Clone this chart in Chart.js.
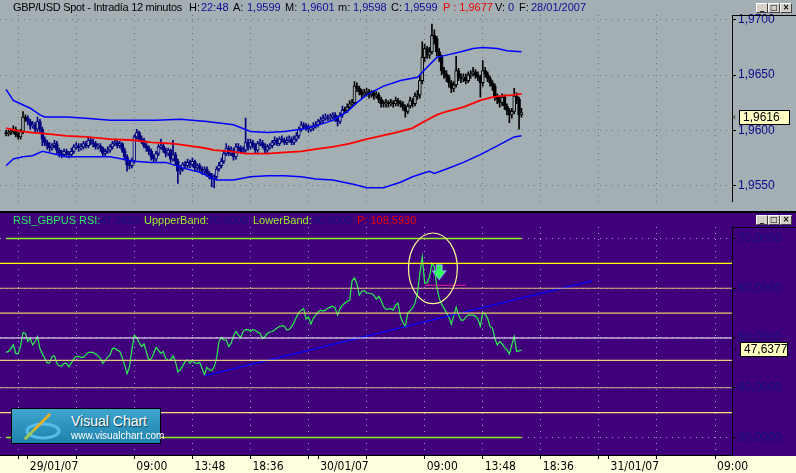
<!DOCTYPE html>
<html>
<head>
<meta charset="utf-8">
<script src="https://cdn.jsdelivr.net/npm/chart.js@4.4.0/dist/chart.umd.min.js"></script>
<style>
  body { margin: 0; width: 796px; height: 473px; overflow: hidden; background: #a4afb3; font-family: "Liberation Sans", Arial, sans-serif; }
  .abs { position: absolute; }
  #topPane { left: 0; top: 0; width: 796px; height: 211px; background: #a4afb3; }
  #sep { left: 0; top: 211px; width: 796px; height: 2px; background: #000; }
  #rsiPane { left: 0; top: 213px; width: 796px; height: 243px; background: #40007c; }
  #timeBar { left: 0; top: 456px; width: 796px; height: 17px; background: #ffffe0; }
  #priceChart { left: 0; top: 0; }
  #rsiChart { left: 0; top: 211px; }
  .t { position: absolute; font-size: 11px; white-space: nowrap; line-height: 13px; }
  .k { color: #000; }
  .v { color: #0a0a96; }
  .r { color: #e80000; }
  .g { color: #2ee86a; }
  .yg { color: #9cf02a; }
  .n { color: #14147e; }
  .axbox { border-top: 1px solid #000; width: 64px; height: 0; }
  .valbox { background: #ffffc4; border: 1px solid #000; font-size: 12px; line-height: 13px; color: #000; padding-left: 3px; box-sizing: border-box; }
  .caret { font-size: 9px; color: #000; }
  .btn { width: 10px; height: 8px; background: #d4d0c8; border: 1px solid; border-color: #fff #404040 #404040 #fff; font: bold 8px/8px "DejaVu Sans", sans-serif; text-align: center; color: #000; }
  #logo { left: 11px; top: 408px; width: 150px; height: 36px; box-sizing: border-box; border: 1px solid #000;
          background: linear-gradient(#3fa6cf, #1e82ad); }
  #logo .big { position: absolute; left: 59px; top: 4px; font-size: 14px; color: #fff; text-shadow: 1px 1px 1px #0b3d55; }
  #logo .small { position: absolute; left: 59px; top: 21px; font-size: 10px; color: #fff; }
</style>
</head>
<body>
<div id="topPane" class="abs"></div>
<div id="sep" class="abs"></div>
<div id="rsiPane" class="abs"></div>
<div id="timeBar" class="abs"></div>
<canvas id="priceChart" class="abs" width="796" height="211"></canvas>
<canvas id="rsiChart" class="abs" width="796" height="262"></canvas>

<!-- price pane header -->
<div class="t k" style="left:13px;top:1px;letter-spacing:-0.3px">GBP/USD Spot - Intradía 12 minutos</div>
<div class="t k" style="left:189px;top:1px">H:</div>
<div class="t v" style="left:201px;top:1px">22:48</div>
<div class="t k" style="left:233px;top:1px">A:</div>
<div class="t v" style="left:247px;top:1px">1,9599</div>
<div class="t k" style="left:285px;top:1px">M:</div>
<div class="t v" style="left:301px;top:1px">1,9601</div>
<div class="t k" style="left:338px;top:1px">m:</div>
<div class="t v" style="left:353px;top:1px">1,9598</div>
<div class="t k" style="left:391px;top:1px">C:</div>
<div class="t v" style="left:404px;top:1px">1,9599</div>
<div class="t r" style="left:443px;top:1px">P : 1,9677</div>
<div class="t k" style="left:495px;top:1px">V:</div>
<div class="t v" style="left:508px;top:1px">0</div>
<div class="t k" style="left:519px;top:1px">F:</div>
<div class="t v" style="left:531px;top:1px">28/01/2007</div>

<!-- rsi pane header -->
<div class="t g" style="left:13px;top:214px">RSI_GBPUS RSI:</div>
<div class="t n" style="left:100px;top:214px">47,9683</div>
<div class="t yg" style="left:144px;top:214px">UppperBand:</div>
<div class="t n" style="left:208px;top:214px">70,0000</div>
<div class="t yg" style="left:253px;top:214px">LowerBand:</div>
<div class="t n" style="left:312px;top:214px">30,0000</div>
<div class="t r" style="left:357px;top:214px">P: 108,5930</div>

<!-- window buttons -->
<div class="abs btn" style="left:756px;top:3px">_</div>
<div class="abs btn" style="left:768px;top:3px">□</div>
<div class="abs btn" style="left:780px;top:3px">×</div>
<div class="abs btn" style="left:756px;top:215px">_</div>
<div class="abs btn" style="left:768px;top:215px">□</div>
<div class="abs btn" style="left:780px;top:215px">×</div>

<!-- axis boxes tops -->
<div class="abs axbox" style="left:732px;top:15px"></div>
<div class="abs axbox" style="left:732px;top:227px"></div>

<!-- last value boxes -->
<div class="abs caret" style="left:733px;top:112px">&lsaquo;</div>
<div class="abs valbox" style="left:739px;top:110px;width:51px;height:15px">1,9616</div>
<div class="abs caret" style="left:734px;top:344px">&lsaquo;</div>
<div class="abs valbox" style="left:740px;top:342px;width:48px;height:15px">47,6377</div>

<!-- logo -->
<div id="logo" class="abs">
  <svg width="60" height="34" style="position:absolute;left:0;top:0">
    <ellipse cx="31" cy="22" rx="16" ry="7" fill="none" stroke="#62c4f4" stroke-width="3" opacity="0.85"/>
    <line x1="13" y1="30" x2="38" y2="5" stroke="#f4b21c" stroke-width="2.5"/>
    <line x1="13" y1="30" x2="22" y2="21" stroke="#8fd05a" stroke-width="2"/>
  </svg>
  <div class="big">Visual Chart</div>
  <div class="small">www.visualchart.com</div>
</div>

<script>
// ---- data (12-minute bars, index 0 = first bar) ----
const firstOpen = 1.9598;
const closes = [
  1.9597,1.9598,1.9599,1.9601,1.9596,1.9594,1.9599,1.9612,1.9611,1.9608,
  1.9604,1.9605,1.9601,1.9608,1.9601,1.9592,1.9589,1.9586,1.9584,1.9586,
  1.9588,1.9582,1.9579,1.9578,1.9581,1.9579,1.9578,1.9581,1.9585,1.9586,
  1.9584,1.9585,1.9588,1.9586,1.9591,1.9589,1.9588,1.9585,1.9586,1.9584,
  1.9579,1.9581,1.9582,1.9585,1.9588,1.9589,1.9586,1.9588,1.9582,1.9576,
  1.9569,1.9568,1.9572,1.9594,1.9598,1.9592,1.9591,1.9586,1.9584,1.9581,
  1.9576,1.9574,1.9579,1.9585,1.9586,1.9582,1.9579,1.9582,1.9574,1.9578,
  1.9572,1.9563,1.9565,1.9569,1.9568,1.9571,1.9569,1.9572,1.9566,1.9568,
  1.9565,1.9563,1.9565,1.9561,1.9559,1.9556,1.9558,1.9565,1.9568,1.9572,
  1.9579,1.9584,1.9579,1.9582,1.9576,1.9585,1.9584,1.9581,1.9582,1.9589,
  1.9585,1.9589,1.9586,1.9582,1.9588,1.9589,1.9586,1.9582,1.9585,1.9586,
  1.9589,1.9591,1.9588,1.9592,1.9591,1.9589,1.9591,1.9592,1.9589,1.9592,
  1.9595,1.9601,1.9605,1.9604,1.9602,1.9601,1.9602,1.9604,1.9605,1.9608,
  1.9609,1.9611,1.9612,1.9611,1.9612,1.9614,1.9611,1.9608,1.9614,1.9618,
  1.9618,1.9621,1.9624,1.9625,1.9640,1.9638,1.9635,1.9632,1.9634,1.9635,
  1.9632,1.9634,1.9631,1.9632,1.9628,1.9624,1.9624,1.9625,1.9624,1.9625,
  1.9624,1.9627,1.9625,1.9624,1.9621,1.9617,1.9622,1.9627,1.9624,1.9631,
  1.9632,1.9645,1.9666,1.9674,1.9668,1.9671,1.9686,1.9683,1.9671,1.9666,
  1.9654,1.9651,1.9648,1.9643,1.9638,1.9641,1.9654,1.9648,1.9647,1.9648,
  1.9645,1.9650,1.9651,1.9653,1.9650,1.9648,1.9643,1.9654,1.9651,1.9647,
  1.9643,1.9640,1.9631,1.9628,1.9625,1.9630,1.9622,1.9618,1.9614,1.9617,
  1.9631,1.9628,1.9614,1.9616
];
const highs = [
  1.9600,1.9600,1.9601,1.9604,1.9603,1.9598,1.9601,1.9617,1.9614,1.9613,
  1.9610,1.9608,1.9607,1.9612,1.9610,1.9603,1.9594,1.9591,1.9589,1.9588,
  1.9591,1.9590,1.9584,1.9582,1.9583,1.9583,1.9581,1.9584,1.9587,1.9589,
  1.9588,1.9588,1.9590,1.9590,1.9594,1.9593,1.9592,1.9590,1.9588,1.9588,
  1.9585,1.9583,1.9585,1.9587,1.9590,1.9592,1.9591,1.9590,1.9589,1.9584,
  1.9578,1.9572,1.9575,1.9596,1.9601,1.9599,1.9595,1.9593,1.9588,1.9586,
  1.9583,1.9578,1.9581,1.9587,1.9592,1.9588,1.9584,1.9584,1.9583,1.9591,
  1.9580,1.9574,1.9568,1.9571,1.9572,1.9574,1.9573,1.9575,1.9573,1.9570,
  1.9570,1.9567,1.9567,1.9567,1.9563,1.9561,1.9560,1.9567,1.9571,1.9575,
  1.9582,1.9588,1.9586,1.9585,1.9584,1.9588,1.9588,1.9586,1.9585,1.9611,
  1.9592,1.9592,1.9591,1.9588,1.9590,1.9592,1.9591,1.9588,1.9587,1.9588,
  1.9591,1.9594,1.9593,1.9594,1.9595,1.9593,1.9594,1.9595,1.9594,1.9595,
  1.9598,1.9603,1.9608,1.9607,1.9606,1.9605,1.9604,1.9607,1.9608,1.9610,
  1.9612,1.9614,1.9615,1.9614,1.9615,1.9616,1.9616,1.9613,1.9616,1.9622,
  1.9621,1.9624,1.9627,1.9628,1.9644,1.9643,1.9640,1.9637,1.9637,1.9638,
  1.9637,1.9636,1.9636,1.9635,1.9634,1.9630,1.9627,1.9628,1.9627,1.9628,
  1.9627,1.9630,1.9629,1.9627,1.9626,1.9623,1.9624,1.9630,1.9629,1.9634,
  1.9636,1.9650,1.9680,1.9678,1.9676,1.9675,1.9696,1.9691,1.9685,1.9674,
  1.9668,1.9657,1.9654,1.9650,1.9645,1.9644,1.9667,1.9656,1.9651,1.9651,
  1.9651,1.9653,1.9654,1.9657,1.9655,1.9653,1.9650,1.9663,1.9657,1.9653,
  1.9649,1.9645,1.9642,1.9633,1.9630,1.9633,1.9632,1.9624,1.9620,1.9620,
  1.9638,1.9634,1.9630,1.9620
];
const lows = [
  1.9595,1.9595,1.9596,1.9597,1.9594,1.9592,1.9592,1.9597,1.9608,1.9605,
  1.9601,1.9602,1.9598,1.9599,1.9597,1.9586,1.9586,1.9583,1.9581,1.9582,
  1.9584,1.9579,1.9576,1.9575,1.9576,1.9576,1.9575,1.9576,1.9579,1.9583,
  1.9581,1.9582,1.9583,1.9584,1.9584,1.9587,1.9585,1.9583,1.9583,1.9581,
  1.9577,1.9577,1.9579,1.9580,1.9583,1.9586,1.9584,1.9584,1.9580,1.9573,
  1.9563,1.9565,1.9566,1.9570,1.9592,1.9590,1.9588,1.9584,1.9581,1.9578,
  1.9573,1.9571,1.9572,1.9577,1.9583,1.9580,1.9576,1.9577,1.9571,1.9572,
  1.9569,1.9552,1.9560,1.9563,1.9565,1.9566,1.9566,1.9567,1.9563,1.9563,
  1.9562,1.9560,1.9560,1.9558,1.9556,1.9549,1.9548,1.9555,1.9563,1.9566,
  1.9570,1.9577,1.9577,1.9577,1.9573,1.9574,1.9581,1.9579,1.9579,1.9580,
  1.9582,1.9583,1.9584,1.9579,1.9580,1.9586,1.9584,1.9579,1.9580,1.9583,
  1.9584,1.9587,1.9586,1.9586,1.9589,1.9587,1.9587,1.9589,1.9587,1.9587,
  1.9590,1.9593,1.9599,1.9601,1.9600,1.9598,1.9599,1.9600,1.9602,1.9603,
  1.9606,1.9607,1.9609,1.9609,1.9609,1.9610,1.9608,1.9604,1.9606,1.9612,
  1.9615,1.9616,1.9619,1.9621,1.9623,1.9635,1.9632,1.9629,1.9630,1.9631,
  1.9629,1.9630,1.9628,1.9629,1.9625,1.9621,1.9621,1.9621,1.9621,1.9622,
  1.9621,1.9622,1.9622,1.9621,1.9618,1.9612,1.9615,1.9620,1.9621,1.9622,
  1.9628,1.9629,1.9642,1.9662,1.9665,1.9665,1.9669,1.9678,1.9667,1.9662,
  1.9650,1.9647,1.9644,1.9639,1.9634,1.9635,1.9639,1.9645,1.9643,1.9644,
  1.9642,1.9643,1.9647,1.9649,1.9647,1.9645,1.9630,1.9640,1.9648,1.9644,
  1.9640,1.9636,1.9627,1.9624,1.9621,1.9622,1.9619,1.9614,1.9607,1.9611,
  1.9615,1.9624,1.9601,1.9612
];

// moving average and bands, read at sample bars
const maBars = [0,6,11,16,25,33,43,53,60,69,76,82,86,93,99,108,115,122,128,135,142,149,155,161,168,172,178,182,189,196,201,204,210,213];
const maValues = [1.9602,1.9599,1.9598,1.9597,1.9595,1.9594,1.9592,1.9591,1.9589,1.9588,1.9586,1.9584,1.9582,1.9581,1.9579,1.9579,1.9580,1.9581,1.9583,1.9585,1.9588,1.9592,1.9595,1.9598,1.9602,1.9607,1.9614,1.9617,1.9621,1.9627,1.9630,1.9631,1.9632,1.9633];
const upperBars = [0,3,6,10,14,16,25,33,43,53,62,72,83,94,101,108,115,122,128,135,141,145,149,156,163,170,174,178,182,188,193,197,203,207,213];
const upperValues = [1.9637,1.9627,1.9624,1.9620,1.9614,1.9612,1.9612,1.9611,1.9609,1.9609,1.9609,1.9610,1.9608,1.9605,1.9599,1.9598,1.9599,1.9601,1.9604,1.9609,1.9617,1.9625,1.9632,1.9640,1.9645,1.9648,1.9657,1.9666,1.9668,1.9671,1.9674,1.9675,1.9674,1.9672,1.9671];
const lowerBars = [0,3,7,11,15,25,33,43,53,60,66,73,80,87,94,101,108,115,122,128,135,144,149,156,163,168,172,175,177,182,189,196,203,210,213];
const lowerValues = [1.9568,1.9574,1.9576,1.9577,1.9581,1.9576,1.9576,1.9576,1.9572,1.9571,1.9571,1.9566,1.9562,1.9555,1.9555,1.9558,1.9559,1.9559,1.9558,1.9556,1.9555,1.9551,1.9548,1.9548,1.9553,1.9558,1.9561,1.9563,1.9561,1.9565,1.9571,1.9578,1.9586,1.9594,1.9595];

const rsiValues = [
  47.1,47.3,47.9,48.6,46.9,46.8,48.3,51.1,50.9,49.3,
  49.9,48.6,49.3,50.3,47.9,46.9,45.9,45.0,45.0,46.3,
  46.4,44.9,44.4,44.4,44.9,44.9,44.2,45.0,45.8,46.3,
  46.3,46.1,46.1,46.6,47.1,47.1,47.1,46.8,46.4,45.9,
  44.9,45.5,46.1,46.6,47.9,47.9,47.6,47.3,46.1,44.6,
  42.8,44.2,47.6,50.6,50.1,49.1,48.3,48.8,47.2,45.6,
  45.8,46.9,48.1,47.5,46.9,47.3,45.9,45.5,45.6,46.4,
  45.3,43.2,43.6,44.4,45.3,45.6,44.9,45.5,45.0,44.9,
  45.1,43.9,42.6,44.1,43.6,43.4,44.2,45.9,49.3,50.1,
  49.6,49.6,48.3,48.9,50.4,51.3,50.6,50.1,51.3,51.7,
  51.7,51.3,51.7,51.5,51.2,50.9,49.9,50.3,50.9,51.2,
  51.3,51.6,52.0,52.3,52.5,52.4,51.6,51.7,52.3,53.1,
  54.2,55.1,55.6,55.9,53.8,54.2,52.8,54.0,54.6,55.3,
  55.6,55.4,55.6,56.0,56.2,56.4,56.0,54.6,55.9,56.6,
  57.0,57.4,57.6,61.5,62.1,60.9,58.6,59.4,59.5,59.1,
  59.0,58.9,58.6,57.8,58.4,57.6,56.3,55.8,55.8,55.9,
  55.6,56.6,57.0,54.3,53.1,52.3,55.0,55.5,56.0,57.0,
  59.0,63.0,66.3,61.0,61.1,62.3,65.0,64.3,60.3,58.0,
  56.8,56.0,55.0,54.2,52.8,54.4,56.2,54.6,53.6,53.6,
  54.2,54.6,54.6,54.6,54.4,53.8,52.4,55.1,54.8,54.0,
  52.3,52.0,49.9,48.6,49.3,48.8,48.1,47.6,46.8,48.6,
  50.3,47.3,47.4,47.6
];
const upperBand = 70;
const lowerBand = 30;
const levelValues = [65, 60, 55, 50, 45.5, 40, 35];
const trendBars = [82, 242];
const trendValues = [42.4, 61.5];
const markBars = [173, 190];
const markValue = 60.6;
const circleBar = 176.4, circleValue = 64.0, circleBarRadius = 10.1, circleValueRadius = 7.1;
const arrowBar = 179, arrowValue = 61.7;

// axes
const priceTicks = [1.955, 1.96, 1.965, 1.97];
const rsiTicks = [30, 40, 50, 60, 70];
const gridBars = [5, 29, 53, 77, 101, 125, 149, 173, 197, 221, 245, 269, 293];
const timeBars = [53, 77, 101, 173, 197, 221, 293];
const timeLabels = ['09:00', '13:48', '18:36', '09:00', '13:48', '18:36', '09:00'];
const dateBars = [9, 129, 249];
const dateLabels = ['29/01/07', '30/01/07', '31/01/07'];

// ---- styling ----
const xMin = -2.5, xMax = 300;
const priceMin = 1.953534, priceMax = 1.970431;
const rsiMin = 26.48, rsiMax = 72.31;
const paneGray = '#a4afb3';
const priceDots = '#6c7275';
const rsiDots = '#b092d8';
const levelColors = ['#ffff00', '#d9bd80', '#e6cc6a', '#ffffff', '#e8cc80', '#cdb68a', '#ffe27a'];
const bandColor = '#90f018';
const rsiColor = '#2cf050';

Chart.defaults.font.family = '"Liberation Sans", Arial, sans-serif';
Chart.defaults.animation = false;

const fmt = v => v.toFixed(4).replace('.', ',');
const bars = closes.map((c, i) => i);
const opens = closes.map((c, i) => i ? closes[i - 1] : firstOpen);
const candleColor = i => (i < 9 || i >= 140) ? '#000000' : '#000080';
const pts = (xs, ys) => xs.map((x, i) => ({ x: x, y: ys[i] }));

const lineDs = (data, color, width) => ({
  type: 'line', data: data, borderColor: color, borderWidth: width,
  pointRadius: 0, fill: false, tension: 0, order: 0
});

new Chart(document.getElementById('priceChart'), {
  type: 'bar',
  data: {
    datasets: [
      lineDs(pts(upperBars, upperValues), '#0000ff', 1.5),
      lineDs(pts(lowerBars, lowerValues), '#0000ff', 1.5),
      lineDs(pts(maBars, maValues), '#ff0000', 1.8),
      {
        type: 'bar', data: bars.map(i => ({ x: i, y: [opens[i], closes[i]] })),
        backgroundColor: bars.map(i => closes[i] > opens[i] ? paneGray : candleColor(i)),
        borderColor: bars.map(candleColor), borderWidth: 1, borderSkipped: false,
        barThickness: 3, minBarLength: 1, grouped: false, order: 1
      },
      {
        type: 'bar', data: bars.map(i => ({ x: i, y: [lows[i], highs[i]] })),
        backgroundColor: bars.map(candleColor), barThickness: 1, grouped: false, order: 2
      }
    ]
  },
  options: {
    responsive: false,
    layout: { padding: { top: 15, left: 0, right: 0, bottom: 0 } },
    plugins: { legend: { display: false }, tooltip: { enabled: false } },
    scales: {
      x: {
        type: 'linear', min: xMin, max: xMax, offset: false,
        afterBuildTicks: s => { s.ticks = gridBars.map(v => ({ value: v })); },
        afterFit: s => { s.height = 0; },
        ticks: { display: false },
        grid: { color: priceDots, drawTicks: false, offset: false },
        border: { display: false, dash: [1, 5] }
      },
      y: {
        position: 'right', min: priceMin, max: priceMax,
        afterBuildTicks: s => { s.ticks = priceTicks.map(v => ({ value: v })); },
        afterFit: s => { s.width = 64; },
        ticks: { color: '#0b0b90', font: { size: 12 }, padding: 2, callback: v => fmt(v) },
        grid: { color: priceDots, tickColor: '#000', tickLength: 4 },
        border: { display: true, color: '#000', dash: [1, 5] }
      }
    }
  }
});

// ellipse and arrow drawn on the RSI pane in data coordinates
const noteMarks = {
  id: 'noteMarks',
  afterDatasetsDraw(chart) {
    const { ctx, scales: { x, y } } = chart;
    const cx = x.getPixelForValue(circleBar), cy = y.getPixelForValue(circleValue);
    const rx = x.getPixelForValue(circleBar + circleBarRadius) - cx;
    const ry = cy - y.getPixelForValue(circleValue + circleValueRadius);
    ctx.save();
    ctx.strokeStyle = '#ffff90';
    ctx.lineWidth = 1.2;
    ctx.beginPath();
    ctx.ellipse(cx, cy, rx, ry, 0, 0, Math.PI * 2);
    ctx.stroke();

    const ax = x.getPixelForValue(arrowBar), ay = y.getPixelForValue(arrowValue);
    ctx.beginPath();
    ctx.moveTo(ax, ay);
    ctx.lineTo(ax - 7, ay - 9);
    ctx.lineTo(ax - 3, ay - 9);
    ctx.lineTo(ax - 3, ay - 15);
    ctx.lineTo(ax + 3, ay - 15);
    ctx.lineTo(ax + 3, ay - 9);
    ctx.lineTo(ax + 7, ay - 9);
    ctx.closePath();
    ctx.fillStyle = '#30ff60';
    ctx.fill();
    ctx.strokeStyle = '#8c8cff';
    ctx.lineWidth = 1;
    ctx.stroke();
    ctx.restore();
  }
};

const tickBars = gridBars.concat(dateBars).sort((a, b) => a - b);
const xLabel = v => {
  const d = dateBars.indexOf(v);
  if (d >= 0) return dateLabels[d];
  const t = timeBars.indexOf(v);
  return t >= 0 ? timeLabels[t] : '';
};

new Chart(document.getElementById('rsiChart'), {
  type: 'line',
  data: {
    datasets: [
      ...levelValues.map((v, k) => lineDs([{ x: xMin, y: v }, { x: xMax, y: v }], levelColors[k], 1.2)),
      lineDs([{ x: bars[0], y: upperBand }, { x: bars[bars.length - 1], y: upperBand }], bandColor, 1.3),
      lineDs([{ x: bars[0], y: lowerBand }, { x: bars[bars.length - 1], y: lowerBand }], bandColor, 1.3),
      lineDs(pts(trendBars, trendValues), '#0000ff', 1.3),
      lineDs([{ x: markBars[0], y: markValue }, { x: markBars[1], y: markValue }], '#e0208c', 1.2),
      lineDs(rsiValues.map((v, i) => ({ x: i, y: v })), rsiColor, 1.2)
    ]
  },
  options: {
    responsive: false,
    layout: { padding: { top: 16, left: 0, right: 0, bottom: 0 } },
    plugins: { legend: { display: false }, tooltip: { enabled: false } },
    scales: {
      x: {
        type: 'linear', min: xMin, max: xMax, offset: false,
        afterBuildTicks: s => { s.ticks = tickBars.map(v => ({ value: v })); },
        afterFit: s => { s.height = 18; },
        ticks: {
          autoSkip: false, maxRotation: 0, align: 'start', padding: 1, labelOffset: 2,
          color: '#000', font: { family: '"Liberation Sans Narrow", "DejaVu Sans Condensed", sans-serif', size: 12 },
          callback: v => xLabel(v)
        },
        grid: {
          color: c => (c.tick && gridBars.includes(c.tick.value)) ? rsiDots : 'rgba(0,0,0,0)',
          tickColor: '#000', tickLength: 4, offset: false
        },
        border: { display: true, color: '#000', dash: [1, 5] }
      },
      y: {
        position: 'right', min: rsiMin, max: rsiMax,
        afterBuildTicks: s => { s.ticks = rsiTicks.map(v => ({ value: v })); },
        afterFit: s => { s.width = 64; },
        ticks: { color: '#16167e', font: { size: 12 }, padding: 2, callback: v => fmt(v) },
        grid: { color: rsiDots, tickColor: '#000', tickLength: 4 },
        border: { display: true, color: '#000', dash: [1, 5] }
      }
    }
  },
  plugins: [noteMarks]
});
</script>
</body>
</html>
